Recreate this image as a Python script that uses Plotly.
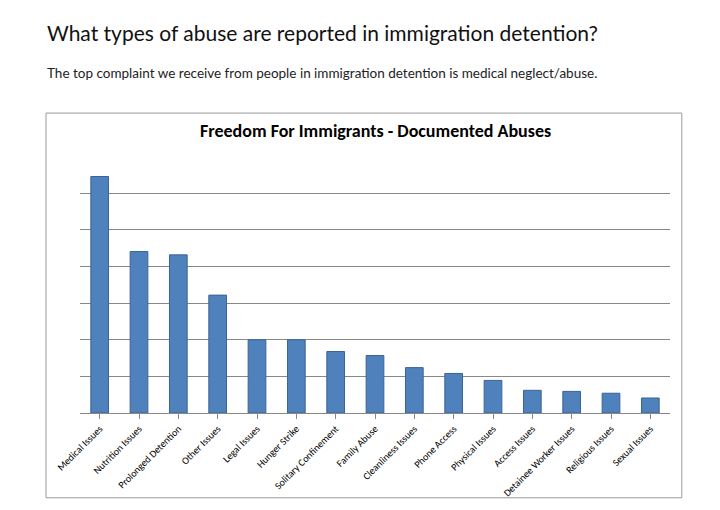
import plotly.graph_objects as go

# complaint categories and counts (in gridline units, no axis labels shown)
categories = ["Medical Issues", "Nutrition Issues", "Prolonged Detention", "Other Issues",
              "Legal Issues", "Hunger Strike", "Solitary Confinement", "Family Abuse",
              "Cleanliness Issues", "Phone Access", "Physical Issues", "Access Issues",
              "Detainee Worker Issues", "Religious Issues", "Sexual Issues"]
values = [6.46, 4.41, 4.32, 3.22, 2.0, 2.0, 1.68, 1.57, 1.24, 1.08, 0.89, 0.62, 0.59, 0.54, 0.41]

fig = go.Figure(go.Bar(
    x=categories, y=values, width=0.45,
    marker=dict(color="#4F81BD", line=dict(color="#3a6496", width=1)),
))

fig.update_layout(
    width=720, height=510,
    margin=dict(l=72, r=58, t=148, b=105),
    paper_bgcolor="white", plot_bgcolor="white",
    showlegend=False,
    font=dict(family="Lato, Open Sans, Arial", color="#222"),
    xaxis=dict(tickangle=-45, tickfont=dict(size=10, family="Calibri, Carlito, Liberation Sans", color="black"),
               showline=True, linecolor="#888", ticks="outside", ticklen=5, tickcolor="#888"),
    yaxis=dict(range=[0, 7.02], tickvals=[1, 2, 3, 4, 5, 6, 7], showticklabels=False, showgrid=True,
               gridcolor="#888", zeroline=False, showline=False),
)

fig.add_shape(type="rect", xref="paper", yref="paper", x0=-0.0576, x1=1.02, y0=-0.33, y1=1.167,
              line=dict(color="#999", width=1))

fig.add_annotation(text="What types of abuse are reported in immigration detention?",
                   xref="paper", yref="paper", x=-0.059, y=(413 - 33) / 257, xanchor="left", yanchor="middle",
                   showarrow=False, font=dict(size=21, color="#111"))
fig.add_annotation(text="The top complaint we receive from people in immigration detention is medical neglect/abuse.",
                   xref="paper", yref="paper", x=-0.059, y=(413 - 73) / 257, xanchor="left", yanchor="middle",
                   showarrow=False, font=dict(size=13.5, color="#222"))
fig.add_annotation(text="<b>Freedom For Immigrants - Documented Abuses</b>",
                   xref="paper", yref="paper", x=0.5, y=(413 - 131) / 257, xanchor="center", yanchor="middle",
                   showarrow=False, font=dict(size=18, color="black", family="Calibri, Carlito, Liberation Sans"))

fig.write_html("out.html")
